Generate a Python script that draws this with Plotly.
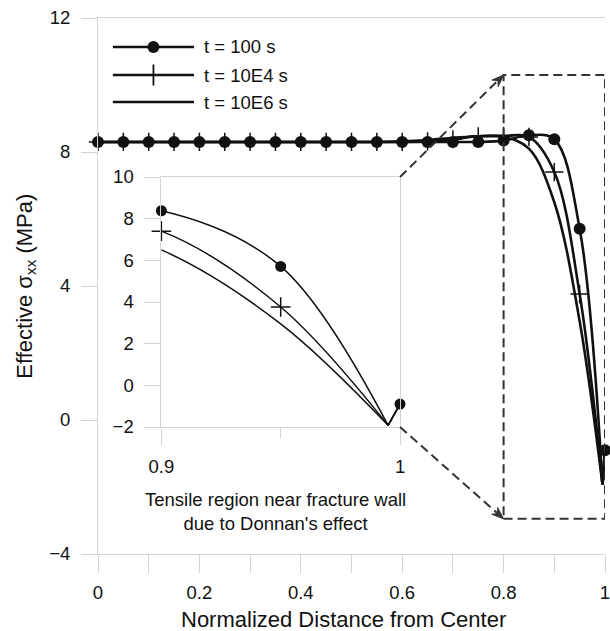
import plotly.graph_objects as go

# Normalized distance from the fracture centre (0) to the fracture wall (1)
distance = [0.00, 0.05, 0.10, 0.15, 0.20, 0.25, 0.30, 0.35, 0.40, 0.45,
            0.50, 0.55, 0.60, 0.65, 0.70, 0.75, 0.80, 0.85, 0.90, 0.95]
trough_distance = 0.995
wall_distance = 1.0

# Effective sigma_xx (MPa) for each time
stress_t100 = [8.30, 8.30, 8.30, 8.30, 8.30, 8.30, 8.30, 8.30, 8.30, 8.30,
               8.30, 8.30, 8.30, 8.30, 8.30, 8.30, 8.34, 8.50, 8.38, 5.71]
stress_t10e4 = [8.30, 8.30, 8.30, 8.30, 8.30, 8.30, 8.30, 8.30, 8.30, 8.30,
                8.30, 8.30, 8.30, 8.32, 8.38, 8.47, 8.48, 8.45, 7.40, 3.76]
stress_t10e6 = [8.30, 8.30, 8.30, 8.30, 8.30, 8.30, 8.30, 8.30, 8.30, 8.30,
                8.30, 8.30, 8.32, 8.36, 8.42, 8.47, 8.45, 8.10, 6.50, 2.95]
trough_stress = [-1.92, -1.92, -1.92]
wall_stress = [-0.90, -0.90, -0.90]

series_names = ["t = 100 s", "t = 10E4 s", "t = 10E6 s"]
series_values = [stress_t100, stress_t10e4, stress_t10e6]
series_symbols = ["circle", "cross-thin", None]
wall_marker = [True, False, False]

main_y_ticks = [-4, 0, 4, 8, 12]
inset_y_ticks = [-2, 0, 2, 4, 6, 8, 10]
inset_note = "Tensile region near fracture wall<br>due to Donnan's effect"
x_title = "Normalized Distance from Center"
y_title = "Effective σ<sub>xx</sub> (MPa)"

# ---- layout geometry (pixels) ----
W, H = 610, 631
ML, MR, MT, MB = 98, 0, 18, 77
PW, PH = W - ML - MR, H - MT - MB
MAIN_X = [0, 1]
MAIN_Y = [-4, 12]
INSET_X = [0.9, 1.0]
INSET_Y = [-2, 10]


def px_x(p):
    return (p - ML) / PW


def px_y(p):
    return 1 - (p - MT) / PH


def paper_to_px(xp, yp):
    return ML + xp * PW, MT + (1 - yp) * PH


inset_dom_x = [px_x(162), px_x(403)]
inset_dom_y = [px_y(427), px_y(177)]

INK = "#111111"
GRID = "#d4d4d4"
FONT = "Liberation Sans, Arial, sans-serif"
SMALL = 18.5
BIG = 22

fig = go.Figure()


def add_series(xa, ya, ys, trough, wall, symbol, show_wall, lw, inset):
    # smooth body of the profile down to the trough next to the wall
    fig.add_trace(go.Scatter(
        x=distance + [trough_distance], y=ys + [trough],
        mode="lines", line=dict(color=INK, width=lw, shape="spline", smoothing=1.0),
        xaxis=xa, yaxis=ya, showlegend=False, hoverinfo="skip"))
    # sharp rise at the wall
    fig.add_trace(go.Scatter(
        x=[trough_distance, wall_distance], y=[trough, wall],
        mode="lines", line=dict(color=INK, width=lw),
        xaxis=xa, yaxis=ya, showlegend=False, hoverinfo="skip"))
    if symbol is None:
        return
    mx = list(distance)
    my = list(ys)
    if show_wall:
        mx = mx + [wall_distance]
        my = my + [wall]
    if inset:
        pts = [(a, b) for a, b in zip(mx, my) if a >= INSET_X[0] - 1e-9]
        mx = [p[0] for p in pts]
        my = [p[1] for p in pts]
    if symbol == "circle":
        marker = dict(symbol="circle", size=11 if inset else 12, color=INK, line=dict(width=0))
    else:
        marker = dict(symbol="cross-thin", size=14 if inset else 13, color=INK,
                      line=dict(color=INK, width=1.5))
    fig.add_trace(go.Scatter(
        x=mx, y=my, mode="markers", marker=marker, cliponaxis=False,
        xaxis=xa, yaxis=ya, showlegend=False, hoverinfo="skip"))


# draw the longest-time series first so the 100 s markers stay on top
for i in [2, 1, 0]:
    add_series("x", "y", series_values[i], trough_stress[i], wall_stress[i],
               series_symbols[i], wall_marker[i], 2.6, False)
    add_series("x2", "y2", series_values[i], trough_stress[i], wall_stress[i],
               series_symbols[i], wall_marker[i], 1.5, True)

# ---- legend drawn on an overlay axis in plot-fraction units ----
leg_x0, leg_x1 = px_x(113), px_x(195)
leg_rows = [px_y(47), px_y(75), px_y(102)]
annotations = []
for name, sym, ry in zip(series_names, series_symbols, leg_rows):
    fig.add_trace(go.Scatter(
        x=[leg_x0, leg_x1], y=[ry, ry], mode="lines",
        line=dict(color=INK, width=2.6), xaxis="x3", yaxis="y3",
        showlegend=False, hoverinfo="skip"))
    if sym == "circle":
        fig.add_trace(go.Scatter(
            x=[(leg_x0 + leg_x1) / 2], y=[ry], mode="markers",
            marker=dict(symbol="circle", size=12, color=INK),
            xaxis="x3", yaxis="y3", showlegend=False, hoverinfo="skip"))
    elif sym == "cross-thin":
        fig.add_trace(go.Scatter(
            x=[(leg_x0 + leg_x1) / 2], y=[ry], mode="markers",
            marker=dict(symbol="cross-thin", size=15, color=INK,
                        line=dict(color=INK, width=1.8)),
            xaxis="x3", yaxis="y3", showlegend=False, hoverinfo="skip"))
    annotations.append(dict(
        text=name, x=px_x(203), y=ry, xref="paper", yref="paper",
        xanchor="left", yanchor="middle", showarrow=False,
        font=dict(family=FONT, size=SMALL, color=INK)))

# ---- zoom box and dashed connectors ----
box_x = [0.8, 1.0]
box_y = [-2.95, 10.3]
DASH = "9px,5px"
DCOL = "#333333"
shapes = [dict(type="rect", xref="x", yref="y", x0=box_x[0], x1=box_x[1],
               y0=box_y[0], y1=box_y[1], line=dict(color=DCOL, width=2, dash=DASH))]


def main_to_paper(xv, yv):
    return ((xv - MAIN_X[0]) / (MAIN_X[1] - MAIN_X[0]),
            (yv - MAIN_Y[0]) / (MAIN_Y[1] - MAIN_Y[0]))


top_start = (inset_dom_x[1], inset_dom_y[1])
bot_start = (inset_dom_x[1], inset_dom_y[0])
top_end = main_to_paper(box_x[0], box_y[1])
bot_end = main_to_paper(box_x[0], box_y[0])
HEAD_LEN, HEAD_HALF, HEAD_NOTCH = 12, 4.5, 8
for (sx, sy), (ex, ey) in [(top_start, top_end), (bot_start, bot_end)]:
    # connector line, stopped where the head begins
    sxp, syp = paper_to_px(sx, sy)
    exp_, eyp = paper_to_px(ex, ey)
    dx, dy = exp_ - sxp, eyp - syp
    L = (dx ** 2 + dy ** 2) ** 0.5
    ux, uy = dx / L, dy / L
    nx, ny = -uy, ux
    bx, by = exp_ - ux * HEAD_NOTCH, eyp - uy * HEAD_NOTCH
    shapes.append(dict(type="line", xref="paper", yref="paper",
                       x0=sx, y0=sy, x1=px_x(bx), y1=px_y(by),
                       line=dict(color=DCOL, width=2, dash=DASH)))
    # arrow head at the box corner
    pts = [
        (exp_, eyp),
        (exp_ - ux * HEAD_LEN + nx * HEAD_HALF, eyp - uy * HEAD_LEN + ny * HEAD_HALF),
        (bx, by),
        (exp_ - ux * HEAD_LEN - nx * HEAD_HALF, eyp - uy * HEAD_LEN - ny * HEAD_HALF),
    ]
    path = "M " + " L ".join(f"{px_x(a):.5f},{px_y(b):.5f}" for a, b in pts) + " Z"
    shapes.append(dict(type="path", xref="paper", yref="paper", path=path,
                       fillcolor=DCOL, line=dict(color=DCOL, width=1)))

# ---- text ----
annotations.append(dict(
    text=inset_note, x=px_x(277.5), y=px_y(511.5), xref="paper", yref="paper",
    xanchor="center", yanchor="middle", showarrow=False, align="center",
    font=dict(family=FONT, size=SMALL, color=INK)))
annotations.append(dict(
    text=x_title, x=px_x(346), y=px_y(619), xref="paper", yref="paper",
    xanchor="center", yanchor="middle", showarrow=False,
    font=dict(family=FONT, size=BIG, color=INK)))
annotations.append(dict(
    text=y_title, x=px_x(25), y=px_y(286), xref="paper", yref="paper",
    xanchor="center", yanchor="middle", showarrow=False, textangle=-90,
    font=dict(family=FONT, size=BIG, color=INK)))

tickfont = dict(family=FONT, size=SMALL, color=INK)

fig.update_layout(
    width=W, height=H,
    margin=dict(l=ML, r=MR, t=MT, b=MB, pad=0),
    paper_bgcolor="white", plot_bgcolor="white",
    showlegend=False,
    font=dict(family=FONT, color=INK),
    xaxis=dict(range=MAIN_X, domain=[0, 1], anchor="y",
               tickmode="linear", tick0=0, dtick=0.1, ticklabelstep=2,
               ticks="outside", ticklen=18, tickcolor=GRID, tickwidth=1,
               showline=True, linecolor=GRID, linewidth=1, mirror=True,
               showgrid=False, zeroline=False, tickfont=tickfont,
               ticklabeloverflow="allow", ticklabelstandoff=4),
    yaxis=dict(range=MAIN_Y, domain=[0, 1], anchor="x",
               tickvals=main_y_ticks, ticks="outside", ticklen=16,
               tickcolor=GRID, tickwidth=1,
               showline=True, linecolor=GRID, linewidth=1,
               showgrid=False, zeroline=False, tickfont=tickfont,
               ticklabelstandoff=7),
    xaxis2=dict(range=INSET_X, domain=inset_dom_x, anchor="y2",
                tickmode="linear", tick0=0.9, dtick=0.1,
                ticks="outside", ticklen=17, tickcolor=GRID, tickwidth=1,
                minor=dict(dtick=0.05, ticks="outside", ticklen=10, tickcolor=GRID, showgrid=False),
                showline=True, linecolor=GRID, linewidth=1, mirror=True,
                showgrid=False, zeroline=False, tickfont=tickfont,
                ticklabelstandoff=6),
    yaxis2=dict(range=INSET_Y, domain=inset_dom_y, anchor="x2",
                tickvals=inset_y_ticks, ticks="outside", ticklen=16,
                tickcolor=GRID, tickwidth=1,
                showline=True, linecolor=GRID, linewidth=1, mirror=True,
                showgrid=False, zeroline=False, tickfont=tickfont,
                ticklabelstandoff=7),
    xaxis3=dict(range=[0, 1], overlaying="x", anchor="y3", visible=False),
    yaxis3=dict(range=[0, 1], overlaying="y", anchor="x3", visible=False),
    shapes=shapes,
    annotations=annotations,
)

fig.write_html("out.html")
